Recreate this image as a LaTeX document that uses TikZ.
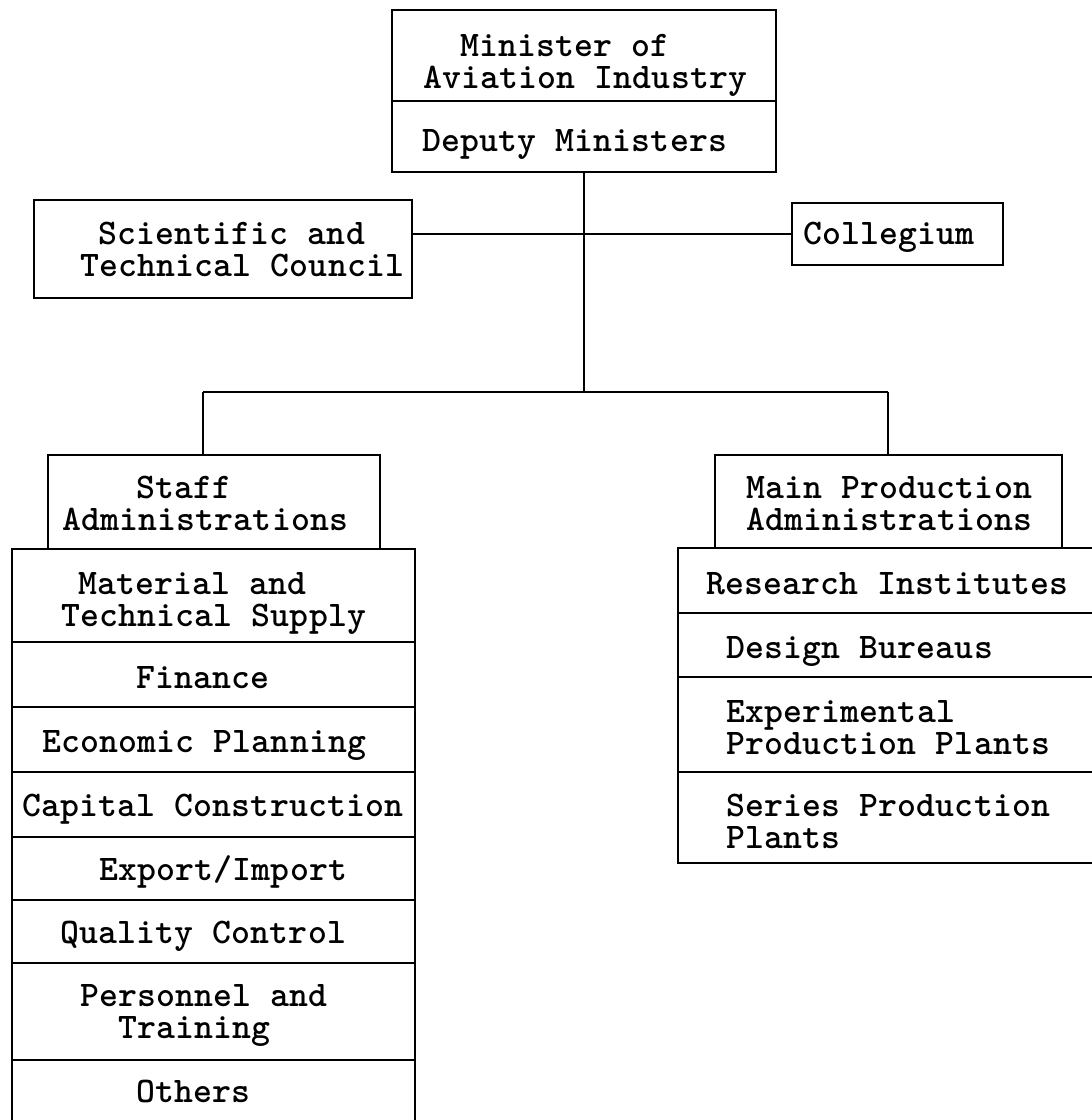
\documentclass[tikz,border=0pt]{standalone}
\usepackage{fontspec}
\newfontfamily\tw[LetterSpace=0.5]{lmmonolt10-bold.otf}
\begin{document}
\begin{tikzpicture}[x=1pt,y=-1pt,
  cell/.style={draw, line width=1.5pt, rectangle, inner sep=0pt},
  txt/.style={anchor=base west, inner sep=0pt, align=left, font=\tw\fontsize{36}{32}\selectfont},
  conn/.style={line width=1.5pt}]
\useasboundingbox (0,0) rectangle (1092,1120);
% top boxes
\node[cell, minimum width=384pt, minimum height=91pt] (min) at (584,55.5) {};
\node[cell, minimum width=384pt, minimum height=71pt] (dep) at (584,136.5) {};
\node[txt] (tmin) at (423,88) {\hspace*{37pt}Minister of\\Aviation Industry};
\node[txt] (tdep) at (422,151) {Deputy Ministers};
% side boxes
\node[cell, minimum width=378pt, minimum height=98pt] (stc) at (223,249) {};
\node[txt] (tstc) at (80,276) {\hspace*{18pt}Scientific and\\Technical Council};
\node[cell, minimum width=211pt, minimum height=62pt] (col) at (897.5,234) {};
\node[txt] (tcol) at (803,244) {Collegium};
% staff
\node[cell, minimum width=332pt, minimum height=94pt] (staff) at (214,502) {};
\node[txt] (tst) at (62,530) {\hspace*{74pt}Staff\\Administrations};
\node[cell, minimum width=403pt, minimum height=93pt] (mat) at (213.5,595.5) {};
\node[cell, minimum width=403pt, minimum height=65pt] (fin) at (213.5,674.5) {};
\node[cell, minimum width=403pt, minimum height=65pt] (eco) at (213.5,739.5) {};
\node[cell, minimum width=403pt, minimum height=65pt] (cap) at (213.5,804.5) {};
\node[cell, minimum width=403pt, minimum height=63pt] (exi) at (213.5,868.5) {};
\node[cell, minimum width=403pt, minimum height=63pt] (qua) at (213.5,931.5) {};
\node[cell, minimum width=403pt, minimum height=97pt] (per) at (213.5,1011.5) {};
\node[cell, minimum width=403pt, minimum height=80pt] (oth) at (213.5,1100) {};
\node[txt] (tmat) at (61,626) {\hspace*{17pt}Material and\\Technical Supply};
\node[txt] (tfin) at (136,688) {Finance};
\node[txt] (teco) at (42,752) {Economic Planning};
\node[txt] (tcap) at (22,816) {Capital Construction};
\node[txt] (texi) at (99,880) {Export/Import};
\node[txt] (tqua) at (60,943) {Quality Control};
\node[txt] (tper) at (80,1038) {Personnel and\\\hspace*{38pt}Training};
\node[txt] (toth) at (136,1102) {Others};
% main production
\node[cell, minimum width=347pt, minimum height=93pt] (mpa) at (888.5,501.5) {};
\node[txt] (tmpa) at (746,530) {Main Production\\Administrations};
\node[cell, minimum width=422pt, minimum height=65pt] (res) at (889,580.5) {};
\node[cell, minimum width=422pt, minimum height=64pt] (des) at (889,645) {};
\node[cell, minimum width=422pt, minimum height=95pt] (epp) at (889,724.5) {};
\node[cell, minimum width=422pt, minimum height=91pt] (spp) at (889,817.5) {};
\node[txt] (tres) at (706,594) {Research Institutes};
\node[txt] (tdes) at (726,658) {Design Bureaus};
\node[txt] (tepp) at (726,754) {Experimental\\Production Plants};
\node[txt] (tspp) at (726,848) {Series Production\\Plants};
% connectors
\coordinate (bus) at (584,392);
\coordinate (sj) at (203,392);
\coordinate (mj) at (888,392);
\draw[conn] (dep.south) -- (bus);
\draw[conn] (stc.east |- col.west) -- (col.west);
\draw[conn] (sj) -- (mj);
\draw[conn] (sj) -- (sj |- staff.north);
\draw[conn] (mj) -- (mj |- mpa.north);
\end{tikzpicture}
\end{document}
